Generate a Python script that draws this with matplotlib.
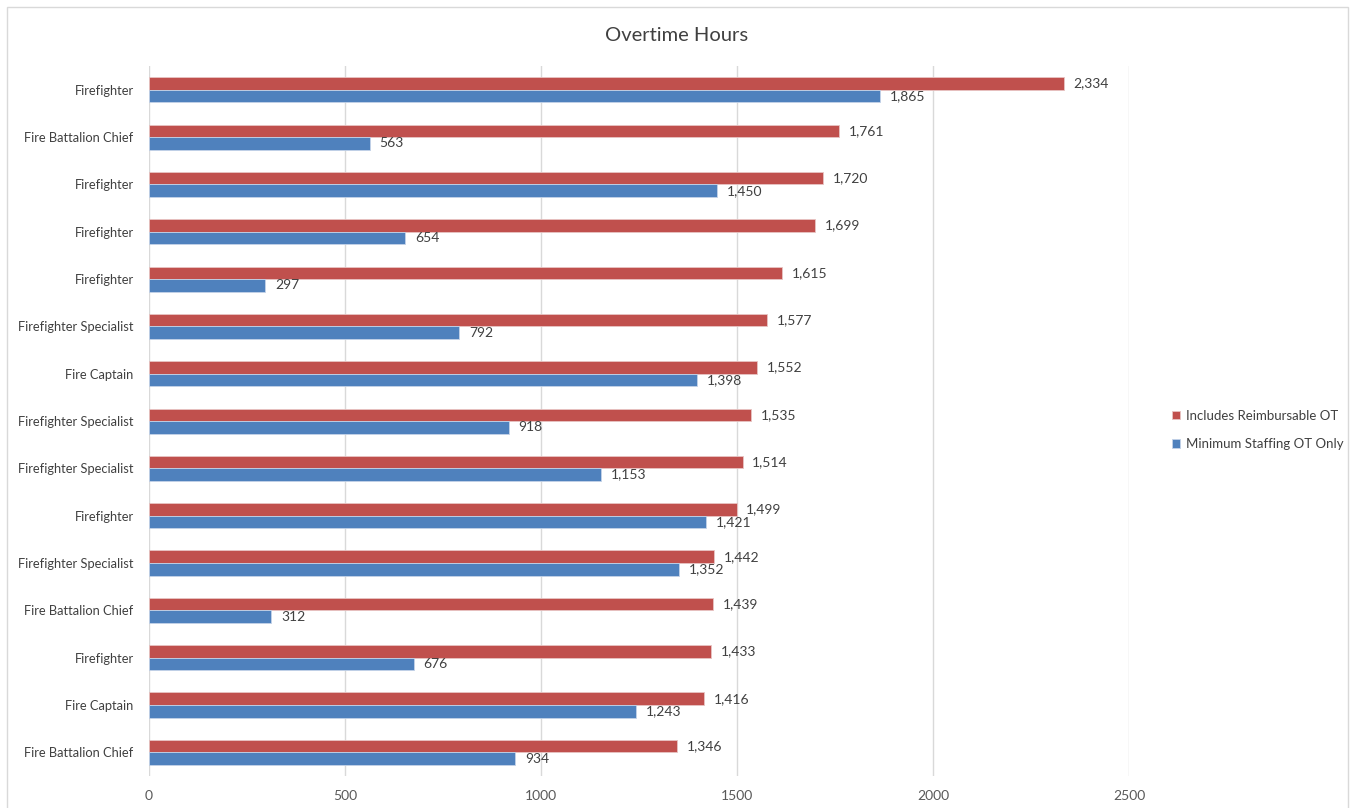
import matplotlib
matplotlib.use("Agg")
import matplotlib.pyplot as plt
import matplotlib.patches as mp
import numpy as np

plt.rcParams["font.family"] = ["Lato", "DejaVu Sans"]

categories = ["Firefighter", "Fire Battalion Chief", "Firefighter", "Firefighter",
              "Firefighter", "Firefighter Specialist", "Fire Captain",
              "Firefighter Specialist", "Firefighter Specialist", "Firefighter",
              "Firefighter Specialist", "Fire Battalion Chief", "Firefighter",
              "Fire Captain", "Fire Battalion Chief"]
reimb = [2334, 1761, 1720, 1699, 1615, 1577, 1552, 1535, 1514, 1499, 1442, 1439, 1433, 1416, 1346]
minstaff = [1865, 563, 1450, 654, 297, 792, 1398, 918, 1153, 1421, 1352, 312, 676, 1243, 934]
xticks = [0, 500, 1000, 1500, 2000, 2500]

RED = "#C0504D"; BLUE = "#4F81BD"; TXT = "#404040"; GRID = "#D9D9D9"

fig = plt.figure(figsize=(13.51, 8.08), dpi=100)
ax = fig.add_axes([0.1103, 0.0396, 0.7254, 0.8786])

y = np.arange(len(categories))
h = 0.265
b1 = ax.barh(y - h/2, reimb, height=h, color=RED, edgecolor="#E8C4C3", linewidth=0.6,
             label="Includes Reimbursable OT", zorder=3)
b2 = ax.barh(y + h/2, minstaff, height=h, color=BLUE, edgecolor="#C4D3E8", linewidth=0.6,
             label="Minimum Staffing OT Only", zorder=3)
for bars in (b1, b2):
    ax.bar_label(bars, labels=[f"{v:,.0f}" for v in bars.datavalues], padding=7,
                 fontsize=10, color=TXT)

ax.set_ylim(len(categories) - 0.5, -0.5)
ax.set_xlim(0, 2500)
ax.set_yticks(y)
ax.set_yticklabels(categories, fontsize=9.3, color=TXT)
ax.set_xticks(xticks)
ax.set_xticklabels([str(t) for t in xticks], fontsize=10, color="#595959")
ax.tick_params(length=0)
ax.tick_params(axis="y", pad=11)
ax.tick_params(axis="x", pad=10)
ax.grid(axis="x", color=GRID, linewidth=1, zorder=0)
for s in ax.spines.values():
    s.set_visible(False)

fig.text(0.501, 0.956, "Overtime Hours", ha="center", va="center", fontsize=14.5, color=TXT)

fig.legend(handles=[b1, b2], loc="center left", bbox_to_anchor=(0.859, 0.468),
           frameon=False, fontsize=9.5, handlelength=0.6, handleheight=0.6,
           handletextpad=0.4, labelspacing=1.25, labelcolor=TXT)

fig.patches.append(mp.Rectangle((0.005, -0.01), 0.993, 1.001, transform=fig.transFigure,
                                fill=False, edgecolor="#D9D9D9", linewidth=1))

fig.savefig("out.png", dpi=100, facecolor="white")
